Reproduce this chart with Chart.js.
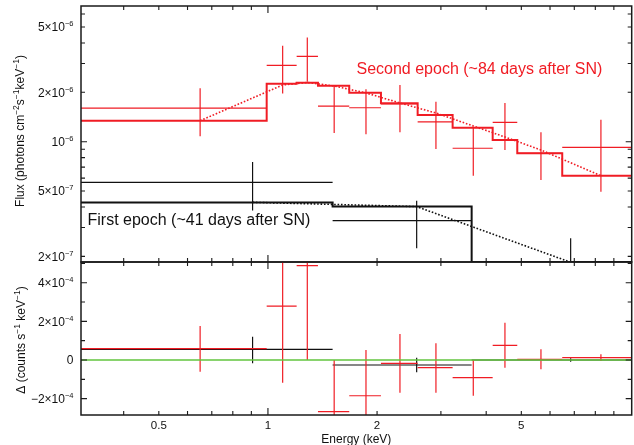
<!DOCTYPE html>
<html>
<head>
<meta charset="utf-8">
<script src="https://cdn.jsdelivr.net/npm/chart.js"></script>
<style>
  html, body { margin: 0; padding: 0; background: #ffffff; }
  #wrap { position: relative; width: 634px; height: 445px; overflow: hidden; background: #fff; }
  #c1 { position: absolute; left: 0; top: 0; }
  #c2 { position: absolute; left: 0; top: 256px; }
</style>
</head>
<body>
<div id="wrap">
  <canvas id="c1" width="634" height="266"></canvas>
  <canvas id="c2" width="634" height="189"></canvas>
</div>
<script>
// ---------------- axis ranges ----------------
const X_MIN = 0.305, X_MAX = 10.08;          // Energy (keV)
const FLUX_MIN = 1.847e-7, FLUX_MAX = 6.72e-6;
const RES_MIN = -2.845e-4, RES_MAX = 5.07e-4;

// ---------------- tick values / labels ----------------
const X_TICKS_MINOR = [0.4, 0.5, 0.6, 0.7, 0.8, 0.9, 2, 3, 4, 5, 6, 7, 8, 9];
const X_TICKS_MAJOR = [1];
const X_LABEL_VALUES = [0.5, 1, 2, 5];
const X_LABELS = ['0.5', '1', '2', '5'];

const FLUX_TICKS_MINOR = [2e-7, 3e-7, 4e-7, 5e-7, 6e-7, 7e-7, 8e-7, 9e-7, 2e-6, 3e-6, 4e-6, 5e-6, 6e-6];
const FLUX_TICKS_MAJOR = [1e-6];
const FLUX_LABEL_VALUES = [5e-6, 2e-6, 1e-6, 5e-7, 2e-7];
const FLUX_LABEL_MANT = ['5×10', '2×10', '10', '5×10', '2×10'];
const FLUX_LABEL_EXP = ['−6', '−6', '−6', '−7', '−7'];

const RES_TICKS_MINOR = [-1e-4, 1e-4, 3e-4, 5e-4];
const RES_TICKS_MAJOR = [-2e-4, 0, 2e-4, 4e-4];
const RES_LABEL_VALUES = [4e-4, 2e-4, 0, -2e-4];
const RES_LABEL_MANT = ['4×10', '2×10', '0', '−2×10'];
const RES_LABEL_EXP = ['−4', '−4', '', '−4'];

// ---------------- second epoch (~84 days), red ----------------
const ep2Lo   = [0.30, 0.992, 1.200, 1.374, 1.676, 2.050, 2.588, 3.232, 4.168, 4.873, 6.484];
const ep2Hi   = [0.992, 1.200, 1.374, 1.676, 2.050, 2.588, 3.232, 4.168, 4.873, 6.484, 10.1];
const ep2E    = [0.650, 1.098, 1.284, 1.523, 1.864, 2.313, 2.907, 3.685, 4.506, 5.664, 8.29];
const ep2Flux   = [1.60e-6, 2.92e-6, 3.31e-6, 1.65e-6, 1.61e-6, 1.70e-6, 1.32e-6, 9.12e-7, 1.31e-6, 8.50e-7, 9.24e-7];
const ep2FluxUp = [2.12e-6, 3.85e-6, 4.32e-6, 2.19e-6, 2.09e-6, 2.22e-6, 1.75e-6, 1.22e-6, 1.72e-6, 1.14e-6, 1.36e-6];
const ep2FluxDn = [1.08e-6, 1.97e-6, 2.32e-6, 1.13e-6, 1.11e-6, 1.14e-6, 9.03e-7, 6.20e-7, 8.90e-7, 5.84e-7, 4.96e-7];
const ep2Step   = [1.343e-6, 2.258e-6, 2.289e-6, 2.195e-6, 1.990e-6, 1.715e-6, 1.455e-6, 1.217e-6, 1.024e-6, 8.50e-7, 6.20e-7];
const ep2Model  = [1.343e-6, 2.217e-6, 2.296e-6, 2.186e-6, 1.982e-6, 1.722e-6, 1.496e-6, 1.247e-6, 1.068e-6, 8.90e-7, 6.20e-7];
const ep2Res    = [5.84e-5, 2.79e-4, 4.88e-4, -2.67e-4, -1.85e-4, -1.71e-5, -3.98e-5, -9.15e-5, 7.60e-5, 3.6e-6, 1.19e-5];
const ep2ResUp  = [1.76e-4, 6.76e-4, 9.75e-4, 0, 5.17e-5, 1.345e-4, 8.64e-5, 0, 1.93e-4, 5.53e-5, 2.95e-5];
const ep2ResDn  = [-6.05e-5, -1.174e-4, 0, -5.35e-4, -4.21e-4, -1.691e-4, -1.691e-4, -1.846e-4, -3.98e-5, -4.81e-5, -5.2e-6];

// ---------------- first epoch (~41 days), black ----------------
const ep1Lo   = [0.30, 1.508, 3.647];
const ep1Hi   = [1.508, 3.647, 10.1];
const ep1E    = [0.907, 2.572, 6.84];
const ep1Flux   = [5.65e-7, 3.30e-7, 1.60e-7];
const ep1FluxUp = [7.52e-7, 4.37e-7, 2.58e-7];
const ep1FluxDn = [3.81e-7, 2.24e-7, 8.0e-8];
const ep1Step   = [4.26e-7, 4.02e-7, 1.847e-7];
const ep1Model  = [4.27e-7, 4.02e-7, 1.84e-7];
const ep1Res    = [5.53e-5, -2.59e-5, 0];
const ep1ResUp  = [1.205e-4, 1.19e-5, 8.8e-6];
const ep1ResDn  = [-1.71e-5, -6.36e-5, -8.8e-6];

// zero line of the residual panel
const zeroX = [0.30, 10.1];
const zeroY = [0, 0];

// ---------------- styles ----------------
const FONT = '"Liberation Sans", Arial, Helvetica, sans-serif';
const RED = 'rgb(240,28,36)';
const BLACK = '#111111';
const GREEN = '#62c43e';
const FRAME = '#1a1a1a';

// ---------------- helpers building line data from arrays ----------------
function hBars(lo, hi, v) {
  const d = [];
  for (let i = 0; i < lo.length; i++) {
    d.push({x: lo[i], y: v[i]}, {x: hi[i], y: v[i]}, {x: hi[i], y: null});
  }
  return d;
}
function vBars(x, dn, up) {
  const d = [];
  for (let i = 0; i < x.length; i++) {
    d.push({x: x[i], y: dn[i]}, {x: x[i], y: up[i]}, {x: x[i], y: null});
  }
  return d;
}
function steps(lo, hi, v) {
  const d = lo.map((l, i) => ({x: l, y: v[i]}));
  d.push({x: hi[hi.length - 1], y: v[v.length - 1]});
  return d;
}
function curve(x, v) { return x.map((e, i) => ({x: e, y: v[i]})); }
function ds(data, color, width, extra) {
  return Object.assign({
    data, borderColor: color, backgroundColor: color, borderWidth: width,
    pointRadius: 0, pointHoverRadius: 0, fill: false, tension: 0, spanGaps: false
  }, extra || {});
}

// rich text: segments [text, isSup]
function richWidth(ctx, segs, size, supSize) {
  let w = 0;
  segs.forEach(s => { ctx.font = (s[1] ? supSize : size) + 'px ' + FONT; w += ctx.measureText(s[0]).width; });
  return w;
}
function drawRich(ctx, segs, x, baseline, size, supSize, supRise, align) {
  const w = richWidth(ctx, segs, size, supSize);
  let cx = align === 'right' ? x - w : (align === 'center' ? x - w / 2 : x);
  ctx.textAlign = 'left';
  ctx.textBaseline = 'alphabetic';
  segs.forEach(s => {
    ctx.font = (s[1] ? supSize : size) + 'px ' + FONT;
    ctx.fillText(s[0], cx, s[1] ? baseline - supRise : baseline);
    cx += ctx.measureText(s[0]).width;
  });
}

function framePlugin(cfg) {
  return {
    id: 'frame',
    afterDatasetsDraw(chart) {
      const {ctx, chartArea: a} = chart;
      const x = chart.scales.x, y = chart.scales.y;
      ctx.save();
      ctx.strokeStyle = FRAME;
      ctx.lineWidth = 1.1;
      ctx.beginPath();
      const tx = (vals, len) => vals.forEach(v => {
        const p = x.getPixelForValue(v);
        if (p <= a.left + 0.5 || p >= a.right - 0.5) return;
        ctx.moveTo(p, a.bottom); ctx.lineTo(p, a.bottom - len);
        ctx.moveTo(p, a.top); ctx.lineTo(p, a.top + len);
      });
      const ty = (vals, len) => vals.forEach(v => {
        const p = y.getPixelForValue(v);
        if (p <= a.top + 0.5 || p >= a.bottom - 0.5) return;
        ctx.moveTo(a.left, p); ctx.lineTo(a.left + len, p);
        ctx.moveTo(a.right, p); ctx.lineTo(a.right - len, p);
      });
      tx(X_TICKS_MINOR, 4); tx(X_TICKS_MAJOR, 7);
      ty(cfg.yMinor, 4); ty(cfg.yMajor, 6);
      ctx.stroke();
      ctx.lineWidth = 1.5;
      ctx.strokeRect(a.left, a.top, a.right - a.left, a.bottom - a.top);
      ctx.restore();
    },
    afterDraw(chart) {
      const {ctx, chartArea: a} = chart;
      const x = chart.scales.x, y = chart.scales.y;
      ctx.save();
      ctx.fillStyle = '#111';
      // y tick labels
      cfg.yLabelVals.forEach((v, i) => {
        const p = y.getPixelForValue(v);
        const segs = [[cfg.yMant[i], false]];
        if (cfg.yExp[i]) segs.push([cfg.yExp[i], true]);
        drawRich(ctx, segs, 73.5, p + 4.2, 12, 7.5, 5, 'right');
      });
      // x tick labels
      if (cfg.xLabels) {
        ctx.font = '11.5px ' + FONT;
        ctx.textAlign = 'center';
        ctx.textBaseline = 'alphabetic';
        X_LABEL_VALUES.forEach((v, i) => {
          ctx.fillText(X_LABELS[i], x.getPixelForValue(v), a.bottom + 13.5);
        });
        ctx.font = '12px ' + FONT;
        ctx.fillText('Energy (keV)', (a.left + a.right) / 2, a.bottom + 28);
      }
      // y title (rotated)
      ctx.save();
      ctx.translate(cfg.titleX, cfg.titleY);
      ctx.rotate(-Math.PI / 2);
      drawRich(ctx, cfg.title, 0, 4.3, 12, 8.5, 5, 'center');
      ctx.restore();
      // annotations
      if (cfg.annotations) {
        cfg.annotations.forEach(an => {
          ctx.font = '16px ' + FONT;
          ctx.fillStyle = an.color;
          ctx.textAlign = 'left';
          ctx.textBaseline = 'alphabetic';
          ctx.fillText(an.text, an.x, an.y);
        });
      }
      ctx.restore();
    }
  };
}

function makeOptions(yCfg, padding, xHeight) {
  return {
    responsive: false, animation: false, devicePixelRatio: 1, events: [],
    layout: {padding},
    plugins: {legend: {display: false}, tooltip: {enabled: false}},
    scales: {
      x: {type: 'logarithmic', min: X_MIN, max: X_MAX, bounds: 'data',
          ticks: {display: false}, grid: {display: false}, border: {display: false},
          afterFit(s) { s.height = xHeight; }},
      y: Object.assign({ticks: {display: false}, grid: {display: false}, border: {display: false},
          bounds: 'data', afterFit(s) { s.width = 81; }}, yCfg)
    }
  };
}

// ---------------- top panel: flux ----------------
new Chart(document.getElementById('c1'), {
  type: 'line',
  data: {datasets: [
    ds(hBars(ep2Lo, ep2Hi, ep2Flux), RED, 1.2),
    ds(vBars(ep2E, ep2FluxDn, ep2FluxUp), RED, 1.2),
    ds(steps(ep2Lo, ep2Hi, ep2Step), RED, 2, {stepped: 'before'}),
    ds(curve(ep2E, ep2Model), RED, 1.6, {borderDash: [1.6, 1.8]}),
    ds(hBars(ep1Lo, ep1Hi, ep1Flux), BLACK, 1.2),
    ds(vBars(ep1E, ep1FluxDn, ep1FluxUp), BLACK, 1.2),
    ds(steps(ep1Lo, ep1Hi, ep1Step), BLACK, 2, {stepped: 'before'}),
    ds(curve(ep1E, ep1Model), BLACK, 1.6, {borderDash: [1.6, 1.8]})
  ]},
  options: makeOptions({type: 'logarithmic', min: FLUX_MIN, max: FLUX_MAX},
                       {top: 6, right: 2.3, bottom: 4, left: 0}, 0),
  plugins: [framePlugin({
    yMinor: FLUX_TICKS_MINOR, yMajor: FLUX_TICKS_MAJOR,
    yLabelVals: FLUX_LABEL_VALUES, yMant: FLUX_LABEL_MANT, yExp: FLUX_LABEL_EXP,
    xLabels: false,
    titleX: 20, titleY: 131,
    title: [['Flux (photons cm', false], ['−2', true], ['s', false], ['−1', true], ['keV', false], ['−1', true], [')', false]],
    annotations: [
      {text: 'Second epoch (~84 days after SN)', x: 356.5, y: 73.5, color: RED},
      {text: 'First epoch (~41 days after SN)', x: 87.5, y: 225, color: '#111'}
    ]
  })]
});

// ---------------- bottom panel: residuals ----------------
new Chart(document.getElementById('c2'), {
  type: 'line',
  data: {datasets: [
    ds(curve(zeroX, zeroY), GREEN, 1.3),
    ds(hBars(ep2Lo, ep2Hi, ep2Res), RED, 1.2),
    ds(vBars(ep2E, ep2ResDn, ep2ResUp), RED, 1.2),
    ds(hBars(ep1Lo, ep1Hi, ep1Res), BLACK, 1.2),
    ds(vBars(ep1E, ep1ResDn, ep1ResUp), BLACK, 1.2)
  ]},
  options: makeOptions({type: 'linear', min: RES_MIN, max: RES_MAX},
                       {top: 6, right: 2.3, bottom: 0, left: 0}, 30),
  plugins: [framePlugin({
    yMinor: RES_TICKS_MINOR, yMajor: RES_TICKS_MAJOR,
    yLabelVals: RES_LABEL_VALUES, yMant: RES_LABEL_MANT, yExp: RES_LABEL_EXP,
    xLabels: true,
    titleX: 21, titleY: 84,
    title: [['Δ (counts s', false], ['−1', true], [' keV', false], ['−1', true], [')', false]]
  })]
});
</script>
</body>
</html>
